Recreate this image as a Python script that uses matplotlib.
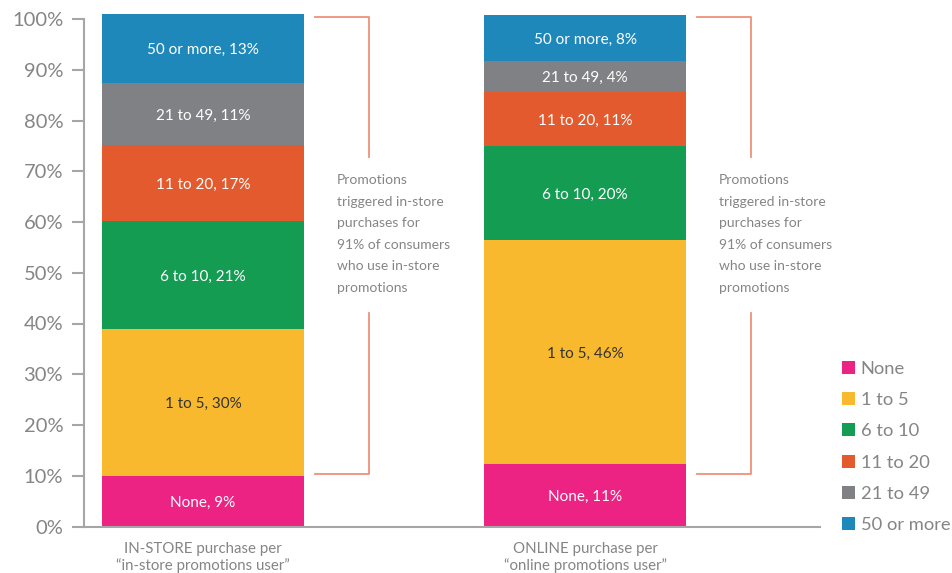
import numpy as np
import matplotlib.pyplot as plt
from matplotlib.patches import Patch

plt.rcParams['font.family'] = ['Lato', 'DejaVu Sans']

# 数据
bars = ['IN-STORE purchase per\n\u201cin-store promotions user\u201d',
        'ONLINE purchase per\n\u201conline promotions user\u201d']
groups = ['None', '1 to 5', '6 to 10', '11 to 20', '21 to 49', '50 or more']
# 段高（从图上量得）
instore_height = [9.9, 29.0, 21.3, 14.9, 12.2, 13.7]
online_height = [12.3, 44.1, 18.6, 10.6, 6.1, 9.1]
# 标注的百分比
instore_label = [9, 30, 21, 17, 11, 13]
online_label = [11, 46, 20, 11, 4, 8]
note = 'Promotions\ntriggered in-store\npurchases for\n91% of consumers\nwho use in-store\npromotions'

colors = ['#EC2383', '#F8B92E', '#149C52', '#E35A2E', '#808184', '#1F88BA']
text_colors = ['white', '#333333', 'white', 'white', 'white', 'white']
bracket_color = '#F0907A'
gray = '#858585'

fig = plt.figure(figsize=(9.53, 5.73), dpi=100)
ax = fig.add_axes([84/953, 46.5/573, 736/953, 507.5/573])

x = np.arange(len(bars))
width = 0.529
heights = [instore_height, online_height]
labels = [instore_label, online_label]

for i in range(len(bars)):
    bottom = 0
    for j, g in enumerate(groups):
        h = heights[i][j]
        ax.bar(x[i], h, width, bottom=bottom, color=colors[j], clip_on=False, zorder=2)
        ax.text(x[i], bottom + h / 2 - 0.3, f'{g}, {labels[i][j]}%', ha='center', va='center',
                color=text_colors[j], fontsize=11)
        bottom += h

    # 右侧括号和说明
    x0, x1 = x[i] + 0.293, x[i] + 0.435
    ax.plot([x0, x1, x1], [100.4, 100.4, 72.8], color=bracket_color, lw=1.3, clip_on=False)
    ax.plot([x1, x1, x0], [42.0, 10.3, 10.3], color=bracket_color, lw=1.3, clip_on=False)
    ax.text(x[i] + 0.351, 57.6, note, ha='left', va='center', color=gray,
            fontsize=10, linespacing=1.95)

ax.set_xlim(-0.3115, 1.615)
ax.set_ylim(0, 100)
ax.set_yticks(np.arange(0, 101, 10))
ax.set_yticklabels([f'{v}%' for v in range(0, 101, 10)])
ax.set_xticks(x)
ax.set_xticklabels(bars)
ax.tick_params(axis='y', length=9, width=1.5, color='#a6a6a6', labelsize=14.5,
               labelcolor=gray, pad=6)
ax.tick_params(axis='x', length=0, labelsize=10.8, labelcolor=gray, pad=11)
for s in ['top', 'right']:
    ax.spines[s].set_visible(False)
for s in ['left', 'bottom']:
    ax.spines[s].set_color('#a6a6a6')
    ax.spines[s].set_linewidth(1.5)

handles = [Patch(facecolor=c, label=g) for c, g in zip(colors, groups)]
leg = fig.legend(handles=handles, loc='lower left', bbox_to_anchor=(842/953, 40/573),
                 frameon=False, fontsize=13.2, handlelength=0.72, handleheight=0.72,
                 handletextpad=0.3, labelspacing=0.83, borderpad=0, borderaxespad=0)
for t in leg.get_texts():
    t.set_color(gray)

fig.savefig('out.png', dpi=100)
